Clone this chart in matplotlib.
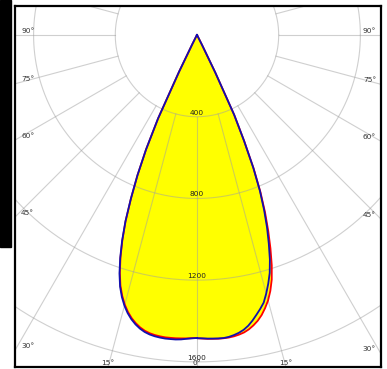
import matplotlib
matplotlib.use("Agg")
import matplotlib.pyplot as plt
import numpy as np
from matplotlib.patches import Rectangle, Polygon

# gamma angles (deg from nadir) and luminous intensity (cd)
angles = list(range(0, 29)) + [30, 35, 40, 45, 50, 60, 70, 80, 90]
red_c0 = [1484, 1486, 1488, 1489, 1490, 1490, 1489, 1486, 1481, 1474, 1463, 1448,
          1430, 1407, 1378, 1345, 1303, 1252, 1185, 1105, 1020, 930, 830, 710, 568,
          432, 205, 55, 15, 6, 3, 2, 1, 0, 0, 0, 0, 0]
red_c180 = [1483, 1484, 1486, 1487, 1488, 1488, 1488, 1486, 1483, 1478, 1470, 1458,
            1442, 1422, 1397, 1366, 1328, 1282, 1222, 1150, 1068, 975, 862, 745, 612,
            450, 200, 50, 15, 6, 3, 2, 1, 0, 0, 0, 0, 0]
blue_c90 = [1484, 1485, 1487, 1488, 1489, 1489, 1486, 1480, 1472, 1461, 1445, 1424,
            1400, 1376, 1350, 1310, 1266, 1218, 1155, 1080, 1003, 917, 822, 705, 565,
            430, 205, 55, 15, 6, 3, 2, 1, 0, 0, 0, 0, 0]
blue_c270 = [1483, 1485, 1488, 1492, 1494, 1494, 1494, 1492, 1489, 1484, 1476, 1464,
             1448, 1428, 1403, 1372, 1334, 1288, 1228, 1155, 1072, 978, 864, 746, 613,
             451, 200, 50, 15, 6, 3, 2, 1, 0, 0, 0, 0, 0]

rings = [400, 800, 1200, 1600]
ring_labels = ["400", "800", "1200", "1600"]
spoke_step = 15

xmin, xmax, ymin, ymax = -891, 901, -1625, 142
px = 4.9  # data units per pixel


def curve(right, left):
    a = np.radians(np.array(angles))
    r_r = np.array(right, float)
    r_l = np.array(left, float)
    x = np.concatenate([-r_l[::-1] * np.sin(a[::-1]), r_r * np.sin(a)])
    y = np.concatenate([-r_l[::-1] * np.cos(a[::-1]), -r_r * np.cos(a)])
    return x, y


fig = plt.figure(figsize=(3.87, 3.69), dpi=100)
ax = fig.add_axes([15 / 387, 2 / 369, 366 / 387, 361 / 369])
ax.set_xlim(xmin, xmax)
ax.set_ylim(ymin, ymax)
ax.set_xticks([])
ax.set_yticks([])
for s in ax.spines.values():
    s.set_linewidth(1.6)
    s.set_color("black")

# yellow fill
for right, left in [(red_c0, red_c180), (blue_c90, blue_c270)]:
    x, y = curve(right, left)
    ax.add_patch(Polygon(np.column_stack([x, y]), closed=True, facecolor="#ffff00",
                         edgecolor="none", zorder=1))

# grid
gcol = "#a0a0a0"
t = np.linspace(0, 2 * np.pi, 400)
for r in rings:
    ax.plot(r * np.cos(t), r * np.sin(t), color=gcol, lw=0.8, alpha=0.5, zorder=2)
for a in range(0, 360, spoke_step):
    ar = np.radians(a)
    ax.plot([rings[0] * np.sin(ar), 2500 * np.sin(ar)],
            [-rings[0] * np.cos(ar), -2500 * np.cos(ar)],
            color=gcol, lw=0.8, alpha=0.5, zorder=2)

# curves
x, y = curve(red_c0, red_c180)
ax.plot(x, y, color="#ff0000", lw=1.3, zorder=3)
x, y = curve(blue_c90, blue_c270)
ax.plot(x, y, color="#1010b0", lw=1.3, zorder=4)

# radial labels
for r, lab in zip(rings, ring_labels):
    ax.text(0, -r + 1 * px, lab, ha="center", va="bottom", fontsize=5.3,
            color="#222222", zorder=5)

# angle labels
for a in range(0, 91, spoke_step):
    ar = np.radians(a)
    for side in ([1, -1] if a else [1]):
        dx = side * np.sin(ar)
        dy = -np.cos(ar)
        ts = []
        if dx > 1e-9:
            ts.append(xmax / dx)
        if dx < -1e-9:
            ts.append(xmin / dx)
        if dy < -1e-9:
            ts.append(ymin / dy)
        tt = min(ts)
        xi, yi = tt * dx, tt * dy
        lab = f"{a}\u00b0"
        if abs(yi - ymin) < 1:
            ax.text(xi, ymin + 1 * px, lab, ha="center", va="bottom", fontsize=5.3,
                    color="#333333", zorder=5)
        elif side < 0:
            ax.text(xmin + 6 * px, yi + 1.5 * px, lab, ha="left", va="bottom",
                    fontsize=5.3, color="#333333", zorder=5)
        else:
            ax.text(xmax - 5 * px, yi + 1.5 * px, lab, ha="right", va="bottom",
                    fontsize=5.3, color="#333333", zorder=5)

# black strip at the left edge
fig.add_artist(Rectangle((0, 1 - 247 / 369), 11 / 387, 247 / 369,
                         transform=fig.transFigure, color="black"))

fig.savefig("out.png", dpi=100)
